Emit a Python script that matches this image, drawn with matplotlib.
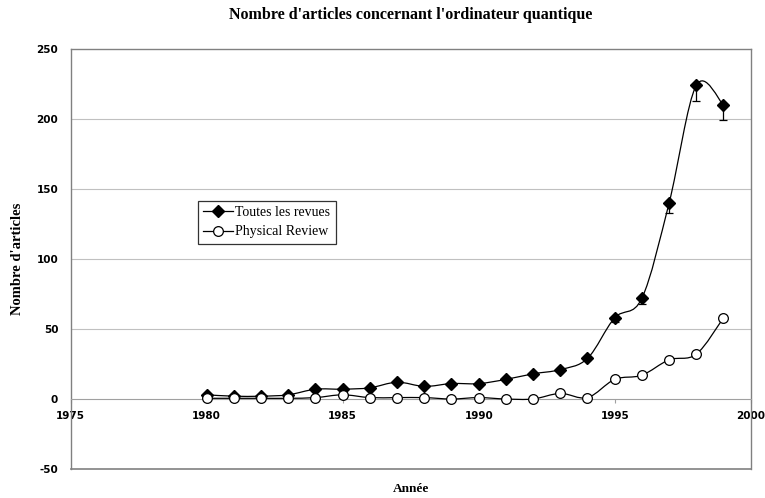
import matplotlib
matplotlib.use("Agg")
import matplotlib.pyplot as plt
from matplotlib.path import Path
from matplotlib.patches import PathPatch
from matplotlib.lines import Line2D

plt.rcParams["axes.unicode_minus"] = False

annees = [1980, 1981, 1982, 1983, 1984, 1985, 1986, 1987, 1988, 1989,
          1990, 1991, 1992, 1993, 1994, 1995, 1996, 1997, 1998, 1999]
toutes = [3, 2, 2, 3, 7, 7, 8, 12, 9, 11,
          11, 14, 18, 21, 29, 58, 72, 140, 224, 210]
toutes_err = [0, 0, 0, 0, 0, 0, 0, 1, 0, 1,
              1, 1, 1, 1, 1, 3, 4, 7, 11, 11]
physical = [0.5, 0.5, 0.5, 0.5, 1, 3, 1, 1, 1, 0,
            1, 0, 0, 4, 1, 14, 17, 28, 32, 58]

x_ticks = [1975, 1980, 1985, 1990, 1995, 2000]
y_ticks = [-50, 0, 50, 100, 150, 200, 250]

serif = "Liberation Serif"
sans = "DejaVu Sans"


def smooth_path(xs, ys):
    # excel-like smoothed line: bezier segments through every point
    pts = list(zip(xs, ys))
    verts = [pts[0]]
    codes = [Path.MOVETO]
    n = len(pts)
    for i in range(n - 1):
        p0 = pts[i - 1] if i > 0 else pts[i]
        p1 = pts[i]
        p2 = pts[i + 1]
        p3 = pts[i + 2] if i + 2 < n else pts[i + 1]
        c1 = (p1[0] + (p2[0] - p0[0]) / 6, p1[1] + (p2[1] - p0[1]) / 6)
        c2 = (p2[0] - (p3[0] - p1[0]) / 6, p2[1] - (p3[1] - p1[1]) / 6)
        verts += [c1, c2, p2]
        codes += [Path.CURVE4] * 3
    return Path(verts, codes)


fig = plt.figure(figsize=(7.65, 4.98), dpi=100)
ax = fig.add_axes([70.7 / 765, 29 / 498, 680 / 765, 420 / 498])

ax.set_xlim(1975, 2000)
ax.set_ylim(-50, 250)

for y in [50, 100, 150, 200]:
    ax.axhline(y, color="#c0c0c0", lw=0.8, zorder=0)
ax.axhline(-50, color="#808080", lw=1.2, zorder=1, clip_on=False)

for side in ["left", "right", "top"]:
    ax.spines[side].set_color("#808080")
    ax.spines[side].set_linewidth(1.0)
ax.spines["bottom"].set_position(("data", 0))
ax.spines["bottom"].set_color("#a0a0a0")
ax.spines["bottom"].set_linewidth(0.8)

ax.set_xticks(x_ticks)
ax.set_yticks(y_ticks)
ax.tick_params(axis="x", direction="out", length=3, width=0.8, color="#a0a0a0",
               pad=5.5, labelsize=7.5)
ax.tick_params(axis="y", length=0, pad=9, labelsize=7.5)
for lab in ax.get_xticklabels() + ax.get_yticklabels():
    lab.set_fontfamily(sans)
    lab.set_fontweight("bold")

ax.add_patch(PathPatch(smooth_path(annees, toutes), fill=False, color="black",
                       lw=0.9, zorder=3))
ax.add_patch(PathPatch(smooth_path(annees, physical), fill=False, color="black",
                       lw=0.9, zorder=3))

ax.errorbar(annees, toutes, yerr=[toutes_err, [0] * len(toutes_err)], fmt="none",
            ecolor="black", elinewidth=0.9, capsize=3, capthick=0.9, zorder=3)
ax.plot(annees, toutes, ls="none", marker="D", ms=6.5, color="black", zorder=4)
ax.plot(annees, physical, ls="none", marker="o", ms=7, mfc="white",
        mec="black", mew=0.9, zorder=4)

handles = [
    Line2D([], [], color="black", lw=0.9, marker="D", ms=6.5),
    Line2D([], [], color="black", lw=0.9, marker="o", ms=7, mfc="white", mew=0.9),
]
leg = ax.legend(handles, ["Toutes les revues", "Physical Review"],
                loc="upper left", bbox_to_anchor=(0.187, 0.639),
                prop={"family": serif, "size": 10}, frameon=True, fancybox=False,
                handlelength=2.1, handletextpad=0.2, borderpad=0.4,
                labelspacing=0.45, borderaxespad=0)
leg.get_frame().set_edgecolor("black")
leg.get_frame().set_linewidth(0.9)

cx = (70.7 + 750.7) / 2 / 765
fig.text(cx, 1 - 15 / 498, "Nombre d'articles concernant l'ordinateur quantique",
         ha="center", va="center", family=serif, weight="bold", size=11.5)
fig.text(cx, 1 - 489 / 498, "Année", ha="center", va="center",
         family=serif, weight="bold", size=9.5)
fig.text(18 / 765, 1 - 259 / 498, "Nombre d'articles", ha="center", va="center",
         rotation=90, family=serif, weight="bold", size=10.5)

fig.savefig("out.png", dpi=100)
